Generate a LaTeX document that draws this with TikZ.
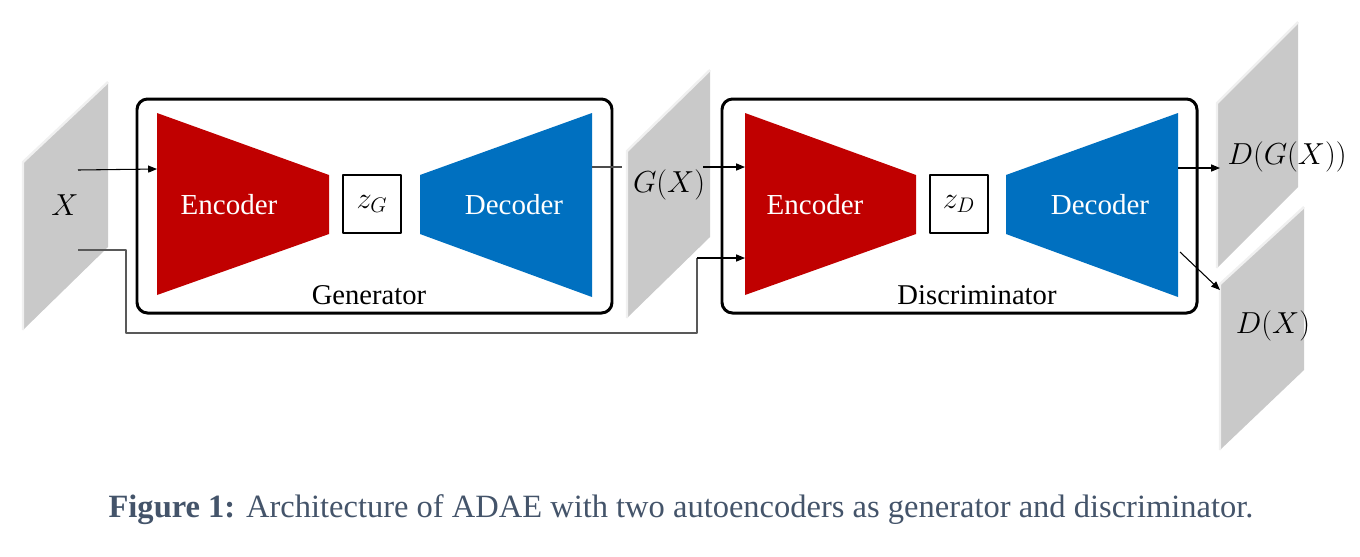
\documentclass[tikz,border=0pt]{standalone}
\usepackage{fontspec}
\setmainfont{Liberation Serif}
\usetikzlibrary{arrows.meta}
\definecolor{encred}{HTML}{C00000}
\definecolor{decblue}{HTML}{0070C0}
\definecolor{sheetgray}{HTML}{C9C9C9}
\definecolor{capgray}{HTML}{44546A}
\tikzset{
  sheetedge/.style={draw=white!88!gray, line width=1.4pt},
  wrapbox/.style={draw, line width=1.7pt, rounded corners=6pt},
  netlabel/.style={text=white, font=\fontsize{16.5}{18}\selectfont},
  boxlabel/.style={font=\fontsize{16.3}{18}\selectfont},
  mathlabel/.style={font=\fontsize{16.5}{18}\selectfont},
  codebox/.style={draw, line width=1pt, minimum size=1.16cm, inner sep=0pt},
  link/.style={->, line width=0.6pt},
  skip/.style={line width=0.6pt, draw=black!65}
}
\begin{document}
\begin{tikzpicture}[x=0.02cm, y=-0.02cm, line join=round, >={Triangle[length=5pt,width=4pt]}]
  \useasboundingbox (0,0) rectangle (1360,556);
  % sheets
  \fill[sheetgray] (23,162)--(108,82)--(108,247)--(23,330)--cycle;
  \draw[sheetedge] (23,330)--(23,162)--(108,82);
  \fill[sheetgray] (627,151)--(710,70)--(710,237)--(627,318)--cycle;
  \draw[sheetedge] (627,318)--(627,151)--(710,70);
  \fill[sheetgray] (1217,103)--(1298,22)--(1298,187)--(1217,268)--cycle;
  \draw[sheetedge] (1217,268)--(1217,103)--(1298,22);
  \fill[sheetgray] (1220,284)--(1304,207)--(1304,370)--(1220,450)--cycle;
  \draw[sheetedge] (1220,450)--(1220,284)--(1304,207);
  \node[mathlabel] (x) at (65,205) {$X$};
  \node[mathlabel] (gx) at (669,185) {$G(X)$};
  \node[mathlabel] (dgx) at (1287,157) {$D(G(X))$};
  \node[mathlabel] (dx) at (1273,326) {$D(X)$};
  % generator
  \draw[wrapbox] (137,99) rectangle (612,313);
  \fill[encred] (157,113)--(329,175)--(329,234)--(157,295)--cycle;
  \fill[decblue] (420,175)--(592,113)--(592,297)--(420,234)--cycle;
  \node[netlabel] (enc1) at (229,205) {Encoder};
  \node[netlabel] (dec1) at (514,205) {Decoder};
  \node[codebox] (zg) at (372,204) {\fontsize{16.5}{18}\selectfont$z_G$};
  \node[boxlabel] (gen) at (369,295) {Generator};
  % discriminator
  \draw[wrapbox] (722,99) rectangle (1197,313);
  \fill[encred] (745,113)--(916,175)--(916,234)--(745,295)--cycle;
  \fill[decblue] (1006,175)--(1178,113)--(1178,297)--(1006,234)--cycle;
  \node[netlabel] (enc2) at (815,205) {Encoder};
  \node[netlabel] (dec2) at (1100,205) {Decoder};
  \node[codebox] (zd) at (959,204) {\fontsize{16.5}{18}\selectfont$z_D$};
  \node[boxlabel] (dis) at (977,295) {Discriminator};
  % connectors
  \coordinate (xa) at (78,170);   \coordinate (enc1w) at (157,169);
  \coordinate (xb) at (78,250);   \coordinate (enc2w) at (745,258);
  \coordinate (bend) at (697,258);
  \coordinate (dec1e) at (592,167); \coordinate (gxw) at (622,167);
  \coordinate (gxe) at (703,167); \coordinate (enc2n) at (745,167);
  \coordinate (dec2a) at (1178,168); \coordinate (dgxw) at (1220,168);
  \coordinate (dec2b) at (1180,252); \coordinate (dxw) at (1220,290);
  \draw[link] (xa)--(enc1w);
  \draw[skip] (xb)-|(126,333)-|(bend);
  \draw[link] (bend)--(enc2w);
  \draw[line width=0.6pt, draw=black!70] (dec1e)--(gxw);
  \draw[link] (gxe)--(enc2n);
  \draw[link] (dec2a)--(dgxw);
  \draw[link] (dec2b)--(dxw);
  % caption
  \node[text=capgray, font=\fontsize{18.5}{20}\selectfont] (cap) at (681,510)
    {\textbf{Figure 1:} Architecture of ADAE with two autoencoders as generator and discriminator.};
\end{tikzpicture}
\end{document}
